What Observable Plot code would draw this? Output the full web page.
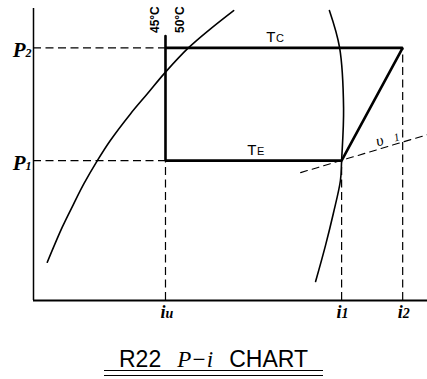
<!DOCTYPE html>
<html>
<head>
<meta charset="utf-8">
<script src="https://cdn.jsdelivr.net/npm/d3@7"></script>
<script src="https://cdn.jsdelivr.net/npm/@observablehq/plot@0.6"></script>
<style>
  html, body { margin: 0; padding: 0; background: #fff; }
  #wrap { position: relative; width: 427px; height: 379px; overflow: hidden; }
  #title {
    position: absolute; left: 0; top: 348px; width: 427px; text-align: center;
    font-family: "Liberation Sans", Arial, sans-serif; font-size: 23px; line-height: 23px;
    color: #000; white-space: nowrap;
  }
  #title .pi { font-family: "Liberation Serif", serif; font-style: italic; margin: 0 16px; }
  .rule { position: absolute; left: 104px; width: 219px; height: 1.4px; background: #000; }
</style>
</head>
<body>
<div id="wrap">
  <div id="chart"></div>
  <div id="title">R22<span class="pi">P−i</span>CHART</div>
  <div class="rule" style="top:370px"></div>
  <div class="rule" style="top:374.5px"></div>
</div>
<script>
// Schematic pressure–enthalpy (P–i) diagram for R22, arbitrary units 0–100 on both axes.

// Enthalpy levels on the i axis
const iu = 33.5;   // liquid leaving the condenser (45 °C)
const i1 = 78.2;   // suction vapour
const i2 = 93.7;   // compressor discharge

// Pressure levels on the P axis
const P1 = 47.9;   // evaporating pressure
const P2 = 86.5;   // condensing pressure

// Top of the 45 °C isotherm drawn through iu
const isoTop = 90.6;
// Enthalpy where the saturated liquid line crosses P2 (50 °C)
const i50 = 39.3;

// Saturated liquid line [i, P]
const liquidI = [3.5, 7.3, 10.2, 12.8, 16.2, 19.5, 24.6, 28.9, 33.5, 39.3, 44.7, 50.8];
const liquidP = [13.1, 25.1, 33.1, 40.0, 47.9, 54.8, 63.9, 70.8, 78.2, 86.5, 92.8, 99.3];

// Saturated vapour line [i, P]
const vaporI = [75.1, 77.7, 78.7, 78.2, 77.9, 76.1, 74.1, 71.6];
const vaporP = [99.3, 86.5, 65.8, 47.9, 41.1, 29.8, 18.8, 6.5];

// Constant specific volume line v1 through the suction point
const v1I = [67.8, 100];
const v1P = [43.8, 56.8];

// Tick labels
const pressureLabels = [{p: P2, sub: "2"}, {p: P1, sub: "1"}];
const enthalpyLabels = [{i: iu, sub: "u"}, {i: i1, sub: "1"}, {i: i2, sub: "2"}];
const temperatureLabels = [{i: 61.4, p: P2, sub: "C"}, {i: 56.6, p: P1, sub: "E"}];

const zip = (xs, ys) => xs.map((x, k) => ({i: x, p: ys[k]}));
const liquid = zip(liquidI, liquidP);
const vapor = zip(vaporI, vaporP);
const v1 = zip(v1I, v1P);
const cycle = [
  {i: iu, p: isoTop}, {i: iu, p: P1}, {i: i1, p: P1}, {i: i2, p: P2}, {i: iu, p: P2}
];
// point along the v1 line at a given i
const onV1 = (i) => ({i, p: v1P[0] + (v1P[1] - v1P[0]) * (i - v1I[0]) / (v1I[1] - v1I[0])});

const serif = "Liberation Serif, Times New Roman, serif";
const sans = "Liberation Sans, Arial, sans-serif";
const dash = "8,4.5";
const ink = "#000";

const isotherm = (i, dx, text) =>
  Plot.text([{i, p: isoTop + 1}], {x: "i", y: "p", text: () => text, dx, rotate: -90, textAnchor: "start",
    lineAnchor: "middle", fill: ink, fontFamily: "Liberation Sans Narrow, " + sans, fontWeight: "bold", fontSize: 12});

const chart = Plot.plot({
  width: 427,
  height: 330,
  marginLeft: 33,
  marginRight: 0,
  marginTop: 8,
  marginBottom: 30,
  x: {domain: [0, 100], axis: null},
  y: {domain: [0, 100], axis: null},
  style: {background: "#fff", overflow: "visible"},
  marks: [
    // axes
    Plot.ruleX([0], {y1: 0, y2: 100, stroke: ink, strokeWidth: 1.5}),
    Plot.ruleY([0], {x1: 0, x2: 100, stroke: ink, strokeWidth: 2}),

    // dashed projection lines
    Plot.ruleY(pressureLabels, {y: "p", x1: 0, x2: iu, stroke: ink, strokeWidth: 1.2, strokeDasharray: dash}),
    Plot.ruleX([{i: iu, top: P1}, {i: i1, top: P1}, {i: i2, top: P2}],
      {x: "i", y1: 0, y2: "top", stroke: ink, strokeWidth: 1.2, strokeDasharray: dash}),

    // saturation lines
    Plot.line(liquid, {x: "i", y: "p", curve: "catmull-rom", stroke: ink, strokeWidth: 1.6}),
    Plot.line(vapor, {x: "i", y: "p", curve: "catmull-rom", stroke: ink, strokeWidth: 1.6}),

    // specific volume line
    Plot.line(v1, {x: "i", y: "p", stroke: ink, strokeWidth: 1.1, strokeDasharray: "7,5"}),

    // refrigeration cycle
    Plot.line(cycle, {x: "i", y: "p", stroke: ink, strokeWidth: 2.6, strokeLinejoin: "miter"}),

    // pressure labels
    Plot.text(pressureLabels, {x: 0, y: "p", text: () => "P", dx: -8, dy: 9, textAnchor: "end", lineAnchor: "bottom",
      fill: ink, fontFamily: serif, fontStyle: "italic", fontWeight: "bold", fontSize: 21}),
    Plot.text(pressureLabels, {x: 0, y: "p", text: "sub", dx: -2, dy: 9, textAnchor: "end", lineAnchor: "bottom",
      fill: ink, fontFamily: serif, fontStyle: "italic", fontWeight: "bold", fontSize: 12}),

    // enthalpy labels
    Plot.text(enthalpyLabels, {x: "i", y: 0, text: () => "i", dx: 0, dy: 17, textAnchor: "end", lineAnchor: "bottom",
      fill: ink, fontFamily: serif, fontStyle: "italic", fontWeight: "bold", fontSize: 18}),
    Plot.text(enthalpyLabels, {x: "i", y: 0, text: "sub", dx: 0, dy: 17, textAnchor: "start", lineAnchor: "bottom",
      fill: ink, fontFamily: serif, fontStyle: "italic", fontWeight: "bold", fontSize: 14}),

    // isotherm labels, written upward
    isotherm(iu, -10, "45°C"),
    isotherm(i50, -8, "50°C"),

    // condensing and evaporating temperature labels
    Plot.text(temperatureLabels, {x: "i", y: "p", text: () => "T", dy: -6, textAnchor: "end", lineAnchor: "bottom",
      fill: ink, fontFamily: sans, fontSize: 15}),
    Plot.text(temperatureLabels, {x: "i", y: "p", text: "sub", dx: 0.5, dy: -6, textAnchor: "start", lineAnchor: "bottom",
      fill: ink, fontFamily: sans, fontSize: 11}),

    // v1 label along its line
    Plot.text([onV1(88.2)], {x: "i", y: "p", text: () => "υ", dy: -3, rotate: -16.7, textAnchor: "middle", lineAnchor: "bottom",
      fill: ink, fontFamily: serif, fontStyle: "italic", fontSize: 16}),
    Plot.text([onV1(92.4)], {x: "i", y: "p", text: () => "1", dy: -3, rotate: -16.7, textAnchor: "middle", lineAnchor: "bottom",
      fill: ink, fontFamily: serif, fontStyle: "italic", fontSize: 11})
  ]
});

document.getElementById("chart").appendChild(chart);
</script>
</body>
</html>
